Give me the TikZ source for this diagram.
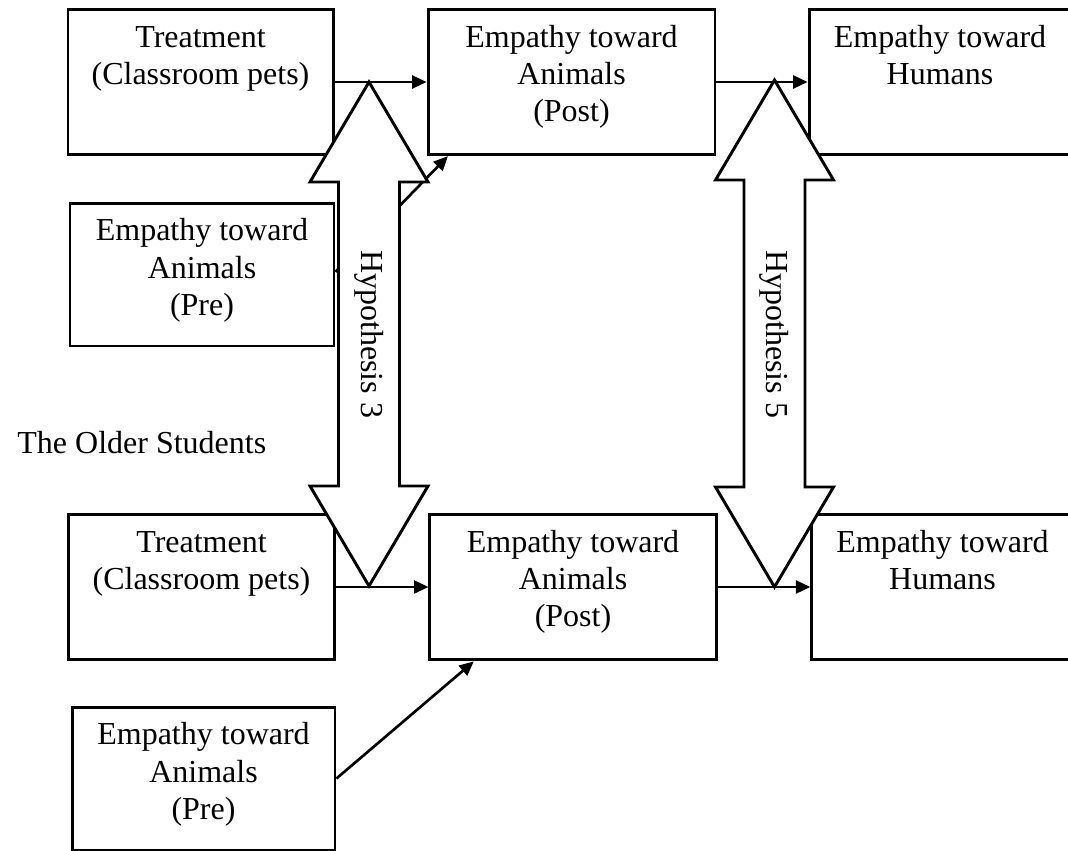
\documentclass[tikz,border=0pt]{standalone}
\usepackage{fontspec}
\setmainfont{Liberation Serif}
\usetikzlibrary{arrows.meta,calc}
\newcommand\boxtext[3]{\parbox[c][#2][t]{#1}{\centering\vspace{4.5pt}\strut#3}}
\def\dblarrow(#1:#2:#3){\draw[hyparrow] (#1,#2) -- ({#1+59},{#2+100}) -- ({#1+30.5},{#2+100}) -- ({#1+30.5},{#3-100}) -- ({#1+59},{#3-100}) -- (#1,#3) -- ({#1-59},{#3-100}) -- ({#1-30.5},{#3-100}) -- ({#1-30.5},{#2+100}) -- ({#1-59},{#2+100}) -- cycle;}

\begin{document}
\begin{tikzpicture}[x=0.375pt, y=-0.375pt, font=\fontsize{12}{13.9}\selectfont,
	box/.style={draw, line width=1.1pt, inner sep=0pt},
	link/.style={line width=1pt, -{Triangle[length=5.4pt,width=4.8pt]}},
	hyparrow/.style={line width=1.1pt, fill=white, line join=miter}]
			%%%%% START %%%%%
			\useasboundingbox (0,0) rectangle (1068,850);
			
			\node[box] (treat1) at (200.5, 82) {\boxtext{99.4pt}{54.7pt}{Treatment\\(Classroom pets)}};
			\node[box] (post1) at (571.5, 82) {\boxtext{107.6pt}{54.5pt}{Empathy toward\\Animals\\(Post)}};
			\node[box] (hum1) at (940, 82) {\boxtext{98.2pt}{54.5pt}{Empathy toward\\Humans}};
			\node[box] (pre1) at (202, 274.5) {\boxtext{99pt}{53.6pt}{Empathy toward\\Animals\\(Pre)}};
			
			\node[anchor=west] (older) at (8, 443) {The Older Students};
			
			\node[box] (treat2) at (201.5, 587) {\boxtext{100pt}{54.7pt}{Treatment\\(Classroom pets)}};
			\node[box] (post2) at (573, 587) {\boxtext{107.3pt}{54.7pt}{Empathy toward\\Animals\\(Post)}};
			\node[box] (hum2) at (942.5, 587) {\boxtext{98pt}{54.7pt}{Empathy toward\\Humans}};
			\node[box] (pre2) at (203.5, 778.5) {\boxtext{98.6pt}{53.6pt}{Empathy toward\\Animals\\(Pre)}};
			
			\draw[link] (treat1.east) -- (treat1.east -| post1.west);
			\draw[link] (post1.east) -- (post1.east -| hum1.west);
			\draw[link] ([yshift=1pt]pre1.east) -- ([xshift=8pt]post1.south west);
			
			\draw[link] (treat2.east) -- (treat2.east -| post2.west);
			\draw[link] (post2.east) -- (post2.east -| hum2.west);
			\draw[link] (pre2.east) -- ([xshift=17pt]post2.south west);
			
			% hypotheses
			\dblarrow(369:82:586)
			\dblarrow(774.5:80:587)
			\node[rotate=-90] (hyp3) at (369, 334) {Hypothesis 3};
			\node[rotate=-90] (hyp5) at (774.5, 334) {Hypothesis 5};
			%%%%% END %%%%%
\end{tikzpicture}
\end{document}
